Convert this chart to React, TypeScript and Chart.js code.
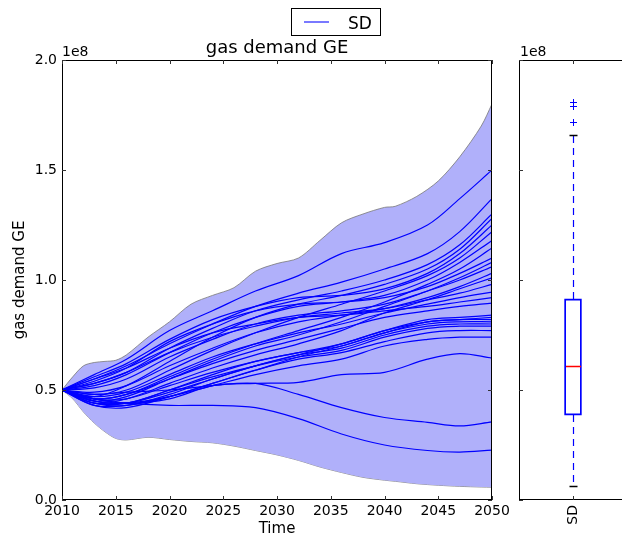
import React, { useEffect, useRef } from 'react';
import { Chart, registerables } from 'chart.js';

Chart.register(...registerables);
Chart.defaults.font.family = '"DejaVu Sans", sans-serif';
Chart.defaults.color = '#000';

// ---- data (values in units of 1e8) ----
const YEARS = [2010, 2013, 2016, 2020, 2024, 2028, 2032, 2036, 2040, 2044, 2047, 2050];

const RUN_01 = [0.50, 0.57, 0.64, 0.77, 0.86, 0.95, 1.02, 1.12, 1.17, 1.25, 1.37, 1.50];
const RUN_02 = [0.50, 0.55, 0.61, 0.71, 0.80, 0.88, 0.94, 0.99, 1.05, 1.12, 1.22, 1.37];
const RUN_03 = [0.50, 0.53, 0.58, 0.69, 0.78, 0.86, 0.91, 0.95, 1.00, 1.07, 1.16, 1.30];
const RUN_04 = [0.50, 0.47, 0.52, 0.63, 0.74, 0.83, 0.89, 0.93, 0.98, 1.05, 1.14, 1.28];
const RUN_05 = [0.50, 0.56, 0.62, 0.73, 0.82, 0.88, 0.92, 0.93, 0.96, 1.03, 1.12, 1.25];
const RUN_06 = [0.50, 0.48, 0.50, 0.59, 0.68, 0.76, 0.83, 0.89, 0.95, 1.02, 1.10, 1.22];
const RUN_07 = [0.50, 0.52, 0.57, 0.67, 0.76, 0.83, 0.88, 0.90, 0.93, 1.00, 1.08, 1.18];
const RUN_08 = [0.50, 0.46, 0.48, 0.56, 0.64, 0.71, 0.77, 0.83, 0.90, 0.98, 1.05, 1.145];
const RUN_09 = [0.50, 0.54, 0.60, 0.72, 0.80, 0.86, 0.89, 0.90, 0.92, 0.97, 1.03, 1.10];
const RUN_10 = [0.50, 0.45, 0.47, 0.55, 0.63, 0.70, 0.75, 0.81, 0.88, 0.95, 1.01, 1.08];
const RUN_11 = [0.50, 0.51, 0.55, 0.65, 0.73, 0.80, 0.84, 0.86, 0.89, 0.95, 1.00, 1.06];
const RUN_12 = [0.50, 0.49, 0.52, 0.61, 0.69, 0.76, 0.81, 0.84, 0.87, 0.92, 0.97, 1.03];
const RUN_13 = [0.50, 0.44, 0.46, 0.53, 0.60, 0.66, 0.71, 0.77, 0.85, 0.91, 0.96, 1.01];
const RUN_14 = [0.50, 0.53, 0.58, 0.67, 0.74, 0.79, 0.83, 0.85, 0.87, 0.91, 0.94, 0.98];
const RUN_15 = [0.50, 0.47, 0.49, 0.57, 0.65, 0.71, 0.76, 0.80, 0.85, 0.89, 0.92, 0.945];
const RUN_16 = [0.50, 0.55, 0.60, 0.69, 0.76, 0.80, 0.83, 0.84, 0.86, 0.88, 0.90, 0.92];
const RUN_17 = [0.50, 0.46, 0.48, 0.55, 0.62, 0.68, 0.73, 0.78, 0.83, 0.86, 0.88, 0.895];
const RUN_18 = [0.50, 0.45, 0.44, 0.50, 0.57, 0.63, 0.67, 0.71, 0.77, 0.82, 0.83, 0.84];
const RUN_19 = [0.50, 0.44, 0.43, 0.48, 0.55, 0.61, 0.66, 0.71, 0.77, 0.81, 0.82, 0.83];
const RUN_20 = [0.50, 0.46, 0.46, 0.52, 0.58, 0.63, 0.67, 0.70, 0.76, 0.81, 0.82, 0.82];
const RUN_21 = [0.50, 0.43, 0.42, 0.47, 0.53, 0.59, 0.65, 0.70, 0.76, 0.80, 0.81, 0.81];
const RUN_22 = [0.50, 0.45, 0.44, 0.49, 0.55, 0.61, 0.66, 0.69, 0.75, 0.79, 0.80, 0.80];
const RUN_23 = [0.50, 0.44, 0.44, 0.50, 0.56, 0.61, 0.65, 0.68, 0.74, 0.78, 0.79, 0.79];
const RUN_24 = [0.50, 0.43, 0.43, 0.47, 0.53, 0.59, 0.64, 0.67, 0.72, 0.76, 0.77, 0.77];
const RUN_25 = [0.50, 0.45, 0.44, 0.47, 0.52, 0.57, 0.61, 0.64, 0.70, 0.73, 0.74, 0.74];
const RUN_26 = [0.50, 0.46, 0.44, 0.46, 0.52, 0.53, 0.535, 0.57, 0.58, 0.64, 0.665, 0.645];
const RUN_27 = [0.50, 0.48, 0.49, 0.50, 0.52, 0.53, 0.48, 0.42, 0.375, 0.353, 0.337, 0.355];
const RUN_28 = [0.50, 0.46, 0.44, 0.43, 0.43, 0.42, 0.37, 0.30, 0.25, 0.225, 0.218, 0.227];

const RUNS = [
  RUN_01, RUN_02, RUN_03, RUN_04, RUN_05, RUN_06, RUN_07, RUN_08, RUN_09, RUN_10,
  RUN_11, RUN_12, RUN_13, RUN_14, RUN_15, RUN_16, RUN_17, RUN_18, RUN_19, RUN_20,
  RUN_21, RUN_22, RUN_23, RUN_24, RUN_25, RUN_26, RUN_27, RUN_28,
];

const ENV_YEARS = [2010, 2011, 2012, 2013, 2014, 2015, 2016, 2018, 2020, 2022, 2024, 2026, 2028, 2030, 2032, 2034, 2036, 2038, 2040, 2041, 2043, 2045, 2047, 2049, 2050];
const ENV_UPPER = [0.50, 0.56, 0.61, 0.625, 0.63, 0.635, 0.66, 0.74, 0.81, 0.89, 0.93, 0.965, 1.04, 1.075, 1.10, 1.18, 1.26, 1.30, 1.33, 1.335, 1.38, 1.45, 1.56, 1.70, 1.80];
const ENV_LOWER = [0.50, 0.46, 0.40, 0.35, 0.31, 0.28, 0.273, 0.285, 0.275, 0.266, 0.26, 0.245, 0.225, 0.205, 0.18, 0.15, 0.125, 0.103, 0.09, 0.085, 0.074, 0.067, 0.062, 0.059, 0.058];

const X_TICKS = [2010, 2015, 2020, 2025, 2030, 2035, 2040, 2045, 2050];
const X_TICK_LABELS = ['2010', '2015', '2020', '2025', '2030', '2035', '2040', '2045', '2050'];
const Y_TICKS = [0, 0.5, 1.0, 1.5, 2.0];
const Y_TICK_LABELS = ['0.0', '0.5', '1.0', '1.5', '2.0'];

const BOX_LABELS = ['SD'];
const BOX_Q1 = [0.386];
const BOX_MEDIAN = [0.609];
const BOX_Q3 = [0.914];
const BOX_WHISKER_LOW = [0.064];
const BOX_WHISKER_HIGH = [1.66];
const BOX_OUTLIERS = [[1.72, 1.79, 1.81]];

const TITLE = 'gas demand GE';
const Y_LABEL = 'gas demand GE';
const X_LABEL = 'Time';
const OFFSET_TEXT = '1e8';
const LEGEND_LABEL = 'SD';

const FONT = '"DejaVu Sans", sans-serif';
const LINE_BLUE = 'rgb(0,0,255)';

function drawFrameAndTicks(chart: any, xTicks: number[], yTicks: number[]) {
  const { ctx, chartArea: a, scales } = chart;
  const x = scales.x;
  const y = scales.y;
  ctx.save();
  ctx.strokeStyle = '#000';
  ctx.lineWidth = 1;
  ctx.strokeRect(a.left + 0.5, a.top + 0.5, a.right - a.left - 1, a.bottom - a.top - 1);
  ctx.strokeStyle = '#333';
  ctx.beginPath();
  xTicks.forEach((v) => {
    const px = Math.round(x.getPixelForValue(v)) + 0.5;
    ctx.moveTo(px, a.bottom);
    ctx.lineTo(px, a.bottom - 4);
    ctx.moveTo(px, a.top);
    ctx.lineTo(px, a.top + 4);
  });
  yTicks.forEach((v) => {
    const py = Math.round(y.getPixelForValue(v)) + 0.5;
    ctx.moveTo(a.left, py);
    ctx.lineTo(a.left + 4, py);
    ctx.moveTo(a.right, py);
    ctx.lineTo(a.right - 4, py);
  });
  ctx.stroke();
  ctx.restore();
}

const mainDecor = {
  id: 'mainDecor',
  afterDraw(chart: any) {
    const { ctx, chartArea: a } = chart;
    drawFrameAndTicks(chart, X_TICKS, Y_TICKS);
    ctx.save();
    ctx.fillStyle = '#000';
    ctx.font = `18px ${FONT}`;
    ctx.textAlign = 'center';
    ctx.textBaseline = 'alphabetic';
    ctx.fillText(TITLE, (a.left + a.right) / 2, 53);
    ctx.font = `14px ${FONT}`;
    ctx.textAlign = 'left';
    ctx.fillText(OFFSET_TEXT, a.left, 56);
    ctx.font = `15px ${FONT}`;
    ctx.textAlign = 'center';
    ctx.fillText(X_LABEL, (a.left + a.right) / 2, 533);
    ctx.save();
    ctx.translate(20, (a.top + a.bottom) / 2);
    ctx.rotate(-Math.PI / 2);
    ctx.textBaseline = 'middle';
    ctx.fillText(Y_LABEL, 0, 0);
    ctx.restore();
    // legend
    ctx.fillStyle = '#fff';
    ctx.fillRect(291, 8, 90, 28);
    ctx.strokeStyle = '#000';
    ctx.lineWidth = 1;
    ctx.strokeRect(291.5, 8.5, 89, 27);
    ctx.strokeStyle = 'rgba(0,0,255,0.7)';
    ctx.lineWidth = 1.5;
    ctx.beginPath();
    ctx.moveTo(304, 22);
    ctx.lineTo(329, 22);
    ctx.stroke();
    ctx.fillStyle = '#000';
    ctx.font = `17px ${FONT}`;
    ctx.textAlign = 'left';
    ctx.textBaseline = 'alphabetic';
    ctx.fillText(LEGEND_LABEL, 348, 29);
    ctx.restore();
  },
};

const boxDecor = {
  id: 'boxDecor',
  afterDatasetsDraw(chart: any) {
    const { ctx, scales } = chart;
    const x = scales.x;
    const y = scales.y;
    ctx.save();
    BOX_LABELS.forEach((_, i) => {
      const cx = Math.round(x.getPixelForValue(i)) + 0.5;
      const half = 8.5;
      ctx.strokeStyle = LINE_BLUE;
      ctx.lineWidth = 1.2;
      ctx.setLineDash([7, 5]);
      ctx.beginPath();
      ctx.moveTo(cx, y.getPixelForValue(BOX_Q3[i]));
      ctx.lineTo(cx, y.getPixelForValue(BOX_WHISKER_HIGH[i]));
      ctx.moveTo(cx, y.getPixelForValue(BOX_Q1[i]));
      ctx.lineTo(cx, y.getPixelForValue(BOX_WHISKER_LOW[i]));
      ctx.stroke();
      ctx.setLineDash([]);
      ctx.strokeStyle = '#000';
      ctx.lineWidth = 1.5;
      ctx.beginPath();
      [BOX_WHISKER_HIGH[i], BOX_WHISKER_LOW[i]].forEach((v) => {
        const py = Math.round(y.getPixelForValue(v)) + 0.5;
        ctx.moveTo(cx - 4, py);
        ctx.lineTo(cx + 4, py);
      });
      ctx.stroke();
      ctx.strokeStyle = 'rgb(255,0,0)';
      ctx.lineWidth = 1.5;
      ctx.beginPath();
      const my = Math.round(y.getPixelForValue(BOX_MEDIAN[i])) + 0.5;
      ctx.moveTo(cx - half + 1, my);
      ctx.lineTo(cx + half - 1, my);
      ctx.stroke();
      ctx.strokeStyle = LINE_BLUE;
      ctx.lineWidth = 1;
      ctx.beginPath();
      BOX_OUTLIERS[i].forEach((v) => {
        const py = Math.round(y.getPixelForValue(v)) + 0.5;
        ctx.moveTo(cx - 3.5, py);
        ctx.lineTo(cx + 3.5, py);
        ctx.moveTo(cx, py - 3.5);
        ctx.lineTo(cx, py + 3.5);
      });
      ctx.stroke();
    });
    ctx.restore();
  },
  afterDraw(chart: any) {
    const { ctx, chartArea: a } = chart;
    drawFrameAndTicks(chart, BOX_LABELS.map((_, i) => i), Y_TICKS);
    ctx.save();
    ctx.fillStyle = '#000';
    ctx.font = `14px ${FONT}`;
    ctx.textAlign = 'left';
    ctx.fillText(OFFSET_TEXT, a.left + 1, 56);
    ctx.restore();
  },
};

function zeroPad(s: any) {
  s.paddingLeft = 0;
  s.paddingRight = 0;
  s.paddingTop = 0;
  s.paddingBottom = 0;
}

export default function App() {
  const mainRef = useRef<HTMLCanvasElement>(null);
  const boxRef = useRef<HTMLCanvasElement>(null);

  useEffect(() => {
    const pts = (xs: number[], ys: number[]) => xs.map((xv, i) => ({ x: xv, y: ys[i] }));
    const datasets: any[] = [
      {
        data: pts(ENV_YEARS, ENV_UPPER),
        borderColor: 'rgba(120,120,120,0.8)',
        borderWidth: 1,
        backgroundColor: 'rgb(176,176,250)',
        fill: '+1',
        pointRadius: 0,
        tension: 0.3,
        order: 5,
      },
      {
        data: pts(ENV_YEARS, ENV_LOWER),
        borderColor: 'rgba(120,120,120,0.8)',
        borderWidth: 1,
        fill: false,
        pointRadius: 0,
        tension: 0.3,
        order: 5,
      },
      ...RUNS.map((r) => ({
        data: pts(YEARS, r),
        borderColor: LINE_BLUE,
        borderWidth: 1.2,
        fill: false,
        pointRadius: 0,
        tension: 0.35,
        order: 0,
      })),
    ];

    const main = new Chart(mainRef.current as HTMLCanvasElement, {
      type: 'line',
      data: { datasets },
      plugins: [mainDecor],
      options: {
        responsive: false,
        animation: false,
        events: [],
        layout: { padding: { left: 0, top: 60, right: 26, bottom: 0 } },
        plugins: { legend: { display: false }, tooltip: { enabled: false }, title: { display: false } },
        scales: {
          x: {
            type: 'linear',
            min: 2010,
            max: 2050,
            grid: { display: false, drawTicks: false },
            border: { display: false },
            afterBuildTicks: (s: any) => { s.ticks = X_TICKS.map((v) => ({ value: v })); },
            ticks: {
              font: { size: 14, family: FONT },
              color: '#000',
              padding: 3,
              maxRotation: 0,
              autoSkip: false,
              callback: (v: any) => X_TICK_LABELS[X_TICKS.indexOf(Number(v))],
            },
            afterFit: (s: any) => { s.height = 36; zeroPad(s); },
          },
          y: {
            type: 'linear',
            min: 0,
            max: 2,
            grid: { display: false, drawTicks: false },
            border: { display: false },
            afterBuildTicks: (s: any) => { s.ticks = Y_TICKS.map((v) => ({ value: v })); },
            ticks: {
              font: { size: 14, family: FONT },
              color: '#000',
              padding: 5,
              autoSkip: false,
              callback: (v: any) => Y_TICK_LABELS[Y_TICKS.indexOf(Number(v))],
            },
            afterFit: (s: any) => { s.width = 62; zeroPad(s); },
          },
        },
      } as any,
    });

    const box = new Chart(boxRef.current as HTMLCanvasElement, {
      type: 'bar',
      data: {
        labels: BOX_LABELS,
        datasets: [
          {
            data: BOX_LABELS.map((_, i) => [BOX_Q1[i], BOX_Q3[i]]),
            backgroundColor: 'rgba(0,0,0,0)',
            borderColor: LINE_BLUE,
            borderWidth: 1.2,
            borderSkipped: false,
            barThickness: 17,
          } as any,
        ],
      },
      plugins: [boxDecor],
      options: {
        responsive: false,
        animation: false,
        events: [],
        layout: { padding: { left: 0, top: 60, right: 13, bottom: 0 } },
        plugins: { legend: { display: false }, tooltip: { enabled: false } },
        scales: {
          x: {
            grid: { display: false, drawTicks: false },
            border: { display: false },
            ticks: {
              font: { size: 14, family: FONT },
              color: '#000',
              padding: 5,
              minRotation: 90,
              maxRotation: 90,
            },
            afterFit: (s: any) => { s.height = 36; zeroPad(s); },
          },
          y: {
            min: 0,
            max: 2,
            grid: { display: false, drawTicks: false },
            border: { display: false },
            afterBuildTicks: (s: any) => { s.ticks = Y_TICKS.map((v) => ({ value: v })); },
            ticks: { display: false },
            afterFit: (s: any) => { s.width = 14; zeroPad(s); },
          },
        },
      } as any,
    });

    return () => {
      main.destroy();
      box.destroy();
    };
  }, []);

  return (
    <div style={{ position: 'absolute', left: 0, top: 0, width: 622, height: 536, overflow: 'hidden', background: '#fff' }}>
      <canvas ref={mainRef} width={518} height={536} style={{ position: 'absolute', left: 0, top: 0 }} />
      <canvas ref={boxRef} width={135} height={536} style={{ position: 'absolute', left: 505, top: 0 }} />
    </div>
  );
}
